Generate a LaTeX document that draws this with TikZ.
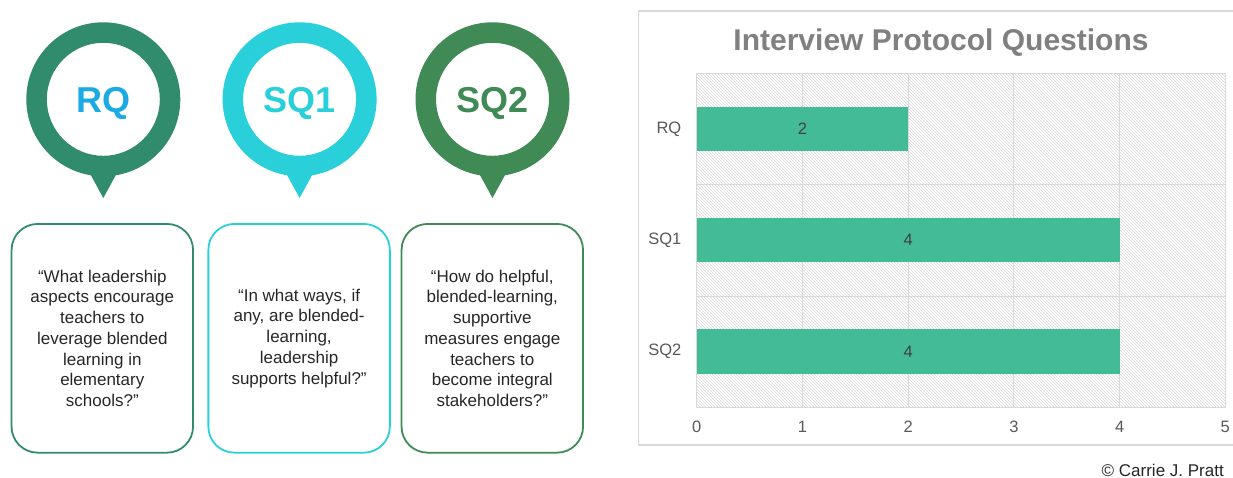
\documentclass[tikz,border=0pt]{standalone}
\usepackage{fontspec}
\setmainfont{Liberation Sans}
\usetikzlibrary{patterns}
\definecolor{rqgreen}{HTML}{318C6E}
\definecolor{sqcyan}{HTML}{29CFD9}
\definecolor{sqgreen}{HTML}{3F8A55}
\definecolor{rqblue}{HTML}{1BAAE3}
\definecolor{barcol}{HTML}{44BB97}
\definecolor{gridcol}{HTML}{D9D9D9}
\definecolor{titlecol}{HTML}{808080}
\definecolor{labcol}{HTML}{595959}
\definecolor{valcol}{HTML}{404040}
\definecolor{txtcol}{HTML}{262626}
\tikzset{
	pinlabel/.style={anchor=base,font=\fontsize{36}{40}\selectfont\bfseries},
	qbox/.style={draw,line width=1.8pt,rounded corners=26pt,minimum width=181.5pt,minimum height=228.7pt,inner sep=0pt,align=center,text=txtcol,font=\fontsize{17}{20.7}\selectfont},
	axislabel/.style={inner sep=0pt,text=labcol,font=\fontsize{16.5}{18}\selectfont},
}
\begin{document}
\begin{tikzpicture}[x=1pt,y=-1pt]
		\useasboundingbox (0,0) rectangle (1233,478);
		% pins
		\foreach \x/\c/\t/\q in {103.3/rqgreen/rqblue/RQ,299.6/sqcyan/sqcyan/SQ1,492.5/sqgreen/sqgreen/SQ2}{
		\fill[\c,even odd rule] (\x,99.3) circle (77pt) (\x,99.3) circle (56.5pt);
		\fill[\c] (\x-16.4,168)--(\x+16.4,168)--(\x,198)--cycle;
		\node[pinlabel,text=\t,name=\q]at(\x,113){\q};
		}
		% question boxes
		\node[qbox,draw=rqgreen,name=rqbox]at(102.3,338.3){“What leadership\\aspects encourage\\teachers to\\leverage blended\\learning in\\elementary\\schools?”};
		\node[qbox,draw=sqcyan,name=sqonebox]at(299.1,338.3){“In what ways, if\\any, are blended-\\learning,\\leadership\\supports helpful?”};
		\node[qbox,draw=sqgreen,name=sqtwobox]at(492.3,338.3){“How do helpful,\\blended-learning,\\supportive\\measures engage\\teachers to\\become integral\\stakeholders?”};
		% chart
		\draw[gridcol,line width=1.2pt](638.3,11) rectangle (1240,445);
		\node[anchor=base,text=titlecol,font=\fontsize{30}{34}\selectfont\bfseries,name=title]at(941,50.7){Interview Protocol Questions};
		\fill[pattern=north west lines,pattern color=gridcol](696.7,73.3) rectangle (1225.3,407.3);
		\foreach \i in {1,...,4}
		\draw[gridcol,line width=1pt](696.7+105.72*\i,73.3)--(696.7+105.72*\i,407.3);
		\foreach \y in {184.3,296}
		\draw[gridcol,line width=1pt](696.7,\y)--(1225.3,\y);
		\draw[gridcol,line width=1pt](696.7,73.3) rectangle (1225.3,407.3);
		\foreach \y/\v/\q/\Q in {128.9/2/rq/RQ,240.2/4/sqone/SQ1,351.6/4/sqtwo/SQ2}{
		\fill[barcol](696.7,\y-22.2) rectangle (696.7+105.72*\v,\y+22.2);
		\node[text=valcol,font=\fontsize{16.5}{18}\selectfont,name=\q-val]at(696.7+52.86*\v,\y){\v};
		\node[axislabel,anchor=east,name=\q-lab]at(681.5,\y){\Q};
		}
		\foreach \i in {0,...,5}
		\node[axislabel,name=tick\i]at(696.7+105.72*\i,426.7){\i};
		\node[anchor=base east,inner sep=0pt,text=txtcol,font=\fontsize{17}{20}\selectfont,name=credit]at(1224,476){© Carrie J. Pratt};
	\end{tikzpicture}
\end{document}
